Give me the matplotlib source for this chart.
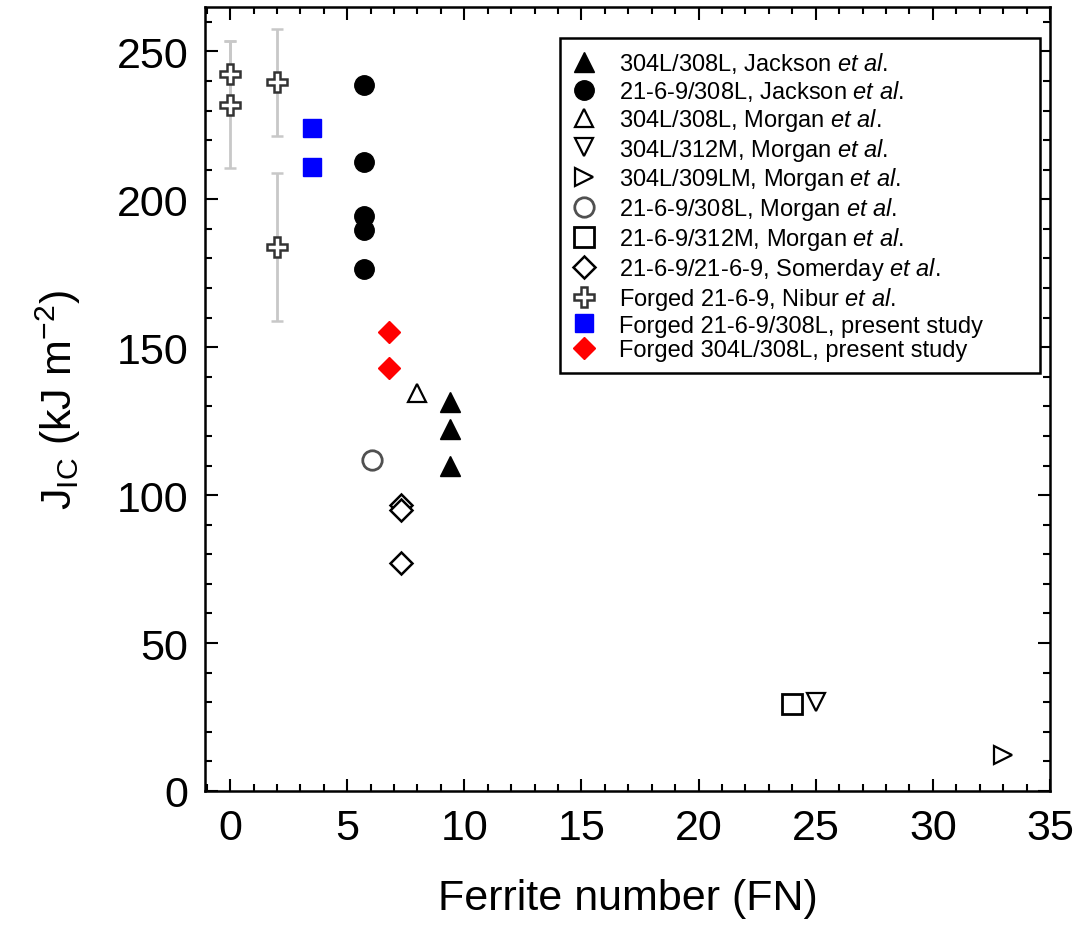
import matplotlib
matplotlib.use("Agg")
import matplotlib.pyplot as plt
from matplotlib.ticker import MultipleLocator

plt.rcParams['font.family'] = ['Liberation Sans', 'DejaVu Sans']
plt.rcParams['mathtext.fontset'] = 'custom'
plt.rcParams['mathtext.rm'] = 'Liberation Sans'
plt.rcParams['mathtext.it'] = 'Liberation Sans:italic'

# data (Ferrite number, J_IC in kJ/m^2)
jackson_304_x = [9.4, 9.4, 9.4]
jackson_304_y = [131.5, 122.5, 110.0]
jackson_21_x = [5.7, 5.7, 5.7, 5.7, 5.7]
jackson_21_y = [238.5, 212.5, 194.5, 189.5, 176.5]
morgan_304_308_x = [8.0]
morgan_304_308_y = [134.5]
morgan_304_312_x = [25.0]
morgan_304_312_y = [30.0]
morgan_304_309_x = [33.0]
morgan_304_309_y = [12.0]
morgan_21_308_x = [6.05]
morgan_21_308_y = [112.0]
morgan_21_312_x = [24.0]
morgan_21_312_y = [29.5]
somerday_x = [7.3, 7.3, 7.3]
somerday_y = [96.5, 95.0, 77.0]
nibur_x = [0.0, 0.0, 2.0, 2.0]
nibur_y = [242.5, 232.0, 239.5, 184.0]
nibur_err_lo = [11.0, 21.5, 18.0, 25.0]
nibur_err_hi = [11.0, 21.5, 18.0, 25.0]
present_21_x = [3.5, 3.5]
present_21_y = [224.0, 211.0]
present_304_x = [6.8, 6.8]
present_304_y = [155.0, 143.0]

fig = plt.figure(figsize=(10.79, 9.29), dpi=100)
ax = fig.add_axes([0.19, 0.1475, 0.7831, 0.8439])

ew = 1.6
h = []
h += ax.plot(jackson_304_x, jackson_304_y, '^', ms=14, color='black', ls='none',
             label='304L/308L, Jackson $et\\ al.$')
h += ax.plot(jackson_21_x, jackson_21_y, 'o', ms=14, color='black', ls='none',
             label='21-6-9/308L, Jackson $et\\ al.$')
h += ax.plot(morgan_304_308_x, morgan_304_308_y, '^', ms=13, mfc='white', mec='black', mew=ew,
             ls='none', label='304L/308L, Morgan $et\\ al.$')
h += ax.plot(morgan_304_312_x, morgan_304_312_y, 'v', ms=13, mfc='white', mec='black', mew=ew,
             ls='none', label='304L/312M, Morgan $et\\ al.$')
h += ax.plot(morgan_304_309_x, morgan_304_309_y, '>', ms=13, mfc='white', mec='black', mew=ew,
             ls='none', label='304L/309LM, Morgan $et\\ al.$')
h += ax.plot(morgan_21_308_x, morgan_21_308_y, 'o', ms=14, mfc='white', mec='#505050', mew=ew + 0.4,
             ls='none', label='21-6-9/308L, Morgan $et\\ al.$')
h += ax.plot(morgan_21_312_x, morgan_21_312_y, 's', ms=14, mfc='white', mec='black', mew=ew + 0.4,
             ls='none', label='21-6-9/312M, Morgan $et\\ al.$')
h += ax.plot(somerday_x, somerday_y, 'D', ms=11, mfc='white', mec='black', mew=ew + 0.2,
             ls='none', label='21-6-9/21-6-9, Somerday $et\\ al.$')
eb = ax.errorbar(nibur_x, nibur_y, yerr=[nibur_err_lo, nibur_err_hi], fmt='P', ms=15,
                 mfc='white', mec='#333333', mew=ew + 0.2, ecolor='#c8c8c8', elinewidth=2,
                 capsize=4, capthick=2, zorder=3)
h.append(eb[0])
h += ax.plot(present_21_x, present_21_y, 's', ms=13, color='#0000ff', ls='none',
             label='Forged 21-6-9/308L, present study')
h += ax.plot(present_304_x, present_304_y, 'D', ms=11.5, color='#ff0000', ls='none',
             label='Forged 304L/308L, present study')

labels = ['304L/308L, Jackson $et\\ al.$',
          '21-6-9/308L, Jackson $et\\ al.$',
          '304L/308L, Morgan $et\\ al.$',
          '304L/312M, Morgan $et\\ al.$',
          '304L/309LM, Morgan $et\\ al.$',
          '21-6-9/308L, Morgan $et\\ al.$',
          '21-6-9/312M, Morgan $et\\ al.$',
          '21-6-9/21-6-9, Somerday $et\\ al.$',
          'Forged 21-6-9, Nibur $et\\ al.$',
          'Forged 21-6-9/308L, present study',
          'Forged 304L/308L, present study']

ax.set_xlim(-1.07, 35)
ax.set_ylim(0, 265)
ax.xaxis.set_major_locator(MultipleLocator(5))
ax.xaxis.set_minor_locator(MultipleLocator(1))
ax.yaxis.set_major_locator(MultipleLocator(50))
ax.yaxis.set_minor_locator(MultipleLocator(10))
ax.tick_params(which='both', direction='in', top=True, right=True, width=1.5,
               labelsize=31, pad=12)
ax.tick_params(which='major', length=9)
ax.tick_params(which='minor', length=5)
for s in ax.spines.values():
    s.set_linewidth(1.8)

ax.set_xlabel('Ferrite number (FN)', fontsize=31, labelpad=22)
ax.set_ylabel('J$_{\\rm IC}$ (kJ m$^{-2}$)', fontsize=31, labelpad=24)

leg = ax.legend(h, labels, loc='upper left', bbox_to_anchor=(0.42, 0.96, 0.568, 0.0),
                mode='expand', fontsize=17, frameon=True, fancybox=False,
                edgecolor='black', handlelength=1.0, handletextpad=1.0,
                labelspacing=0.12, borderpad=0.5, borderaxespad=0.0, framealpha=1)
leg.get_frame().set_linewidth(1.8)

fig.savefig('out.png', dpi=100)
